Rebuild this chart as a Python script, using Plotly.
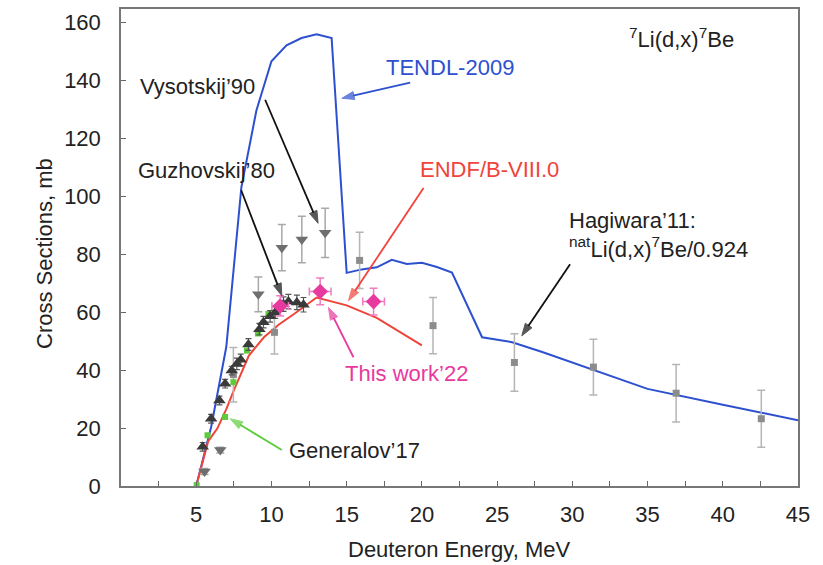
import plotly.graph_objects as go

# ---- evaluated cross sections (deuteron energy in MeV, sigma in mb) ----
tendl_e = [5, 6, 7, 8, 9, 10, 11, 12, 13, 14, 15, 16, 17, 18, 19, 20, 21, 22, 24, 26, 28, 30, 35, 40, 45]
tendl_s = [0, 20.5, 48, 103, 129.5, 146.5, 152, 154.5, 155.8, 154.5, 73.5, 74.7, 75.4, 78, 76.6, 77,
           75.5, 73.6, 51.3, 49.6, 46.2, 42.5, 33.5, 28, 22.7]

endf_e = [5.0, 5.8, 6.4, 7.0, 7.5, 8.0, 8.5, 9.5, 10.5, 11.5, 13.0, 15.0, 17.0, 20.0]
endf_s = [0, 15.5, 19.8, 26.5, 33, 39, 45, 51.3, 55.7, 59.3, 65, 62.3, 58, 48.5]

# ---- experimental data ----
guz_e = [5.43, 5.99, 6.54, 6.92, 7.36, 7.7, 7.96, 8.47, 9.2, 9.47, 9.91, 10.25, 10.8, 11.13, 11.69, 12.13]
guz_s = [13.5, 23.2, 29.5, 35.3, 39.8, 42.1, 43.5, 48.8, 54.1, 56.5, 58.5, 59.8, 62.7, 63.6, 63.3, 62.5]
guz_err = [1.5, 1.5, 1.5, 1.5, 1.5, 2, 2, 2, 2, 2, 2, 2, 2.5, 2.5, 2.5, 2.5]

vys_e = [5.55, 6.6, 9.13, 10.69, 12.02, 13.57]
vys_s = [5.0, 12.4, 66.1, 82.2, 85.0, 87.3]
vys_err = [1, 1, 6, 8, 8, 8.5]

hag_e = [7.47, 10.2, 15.86, 20.74, 26.15, 31.4, 36.9, 42.56]
hag_s = [38.4, 53.0, 77.8, 55.3, 42.6, 41.0, 32.0, 23.2]
hag_err = [9.4, 7.5, 9.7, 9.7, 9.9, 9.6, 9.9, 9.8]

gen_e = [5.03, 5.75, 6.92, 7.47, 8.37, 9.1, 9.8]
gen_s = [0.3, 17.5, 23.8, 35.8, 46.7, 52.6, 59.3]

tw_e = [10.58, 13.24, 16.79]
tw_s = [62.1, 67.1, 63.6]
tw_xerr = [0.55, 0.72, 0.72]
tw_yerr = [3.5, 4.6, 4.6]

x_ticks = [5, 10, 15, 20, 25, 30, 35, 40, 45]
y_ticks = [0, 20, 40, 60, 80, 100, 120, 140, 160]

FONT = "Liberation Sans, Arial, Helvetica, sans-serif"
BLUE = "#2d50cf"
RED = "#f0443a"
PINK = "#e8399e"
GREEN = "#5ccc3c"
FS = 22

W, H = 823, 565
ML, MR, MT, MB = 121, 25, 7, 79
PL, PR, PT, PB = ML, W - MR, MT, H - MB


def px(xp):
    return (xp - PL) / (PR - PL)


def py(yp):
    return (PB - yp) / (PB - PT)


fig = go.Figure()

fig.add_trace(go.Scatter(x=tendl_e, y=tendl_s, mode="lines",
                         line=dict(color=BLUE, width=2), name="TENDL-2009"))
fig.add_trace(go.Scatter(x=endf_e, y=endf_s, mode="lines",
                         line=dict(color=RED, width=2), name="ENDF/B-VIII.0"))

fig.add_trace(go.Scatter(x=hag_e, y=hag_s, mode="markers", name="Hagiwara'11",
                         marker=dict(symbol="square", size=7, color="#8c8c8c"),
                         error_y=dict(type="data", array=hag_err, color="#b5b5b5",
                                      thickness=1.5, width=4)))
fig.add_trace(go.Scatter(x=vys_e, y=vys_s, mode="markers", name="Vysotskij'90",
                         marker=dict(symbol="triangle-down", size=11, color="#6e6e6e"),
                         error_y=dict(type="data", array=vys_err, color="#a8a8a8",
                                      thickness=1.5, width=4)))
fig.add_trace(go.Scatter(x=gen_e, y=gen_s, mode="markers", name="Generalov'17",
                         marker=dict(symbol="square", size=6, color=GREEN)))
fig.add_trace(go.Scatter(x=guz_e, y=guz_s, mode="markers", name="Guzhovskij'80",
                         marker=dict(symbol="triangle-up", size=11, color="#3a3a3a"),
                         error_y=dict(type="data", array=guz_err, color="#555555",
                                      thickness=1.2, width=3)))
fig.add_trace(go.Scatter(x=tw_e, y=tw_s, mode="markers", name="This work'22",
                         marker=dict(symbol="diamond", size=12, color=PINK),
                         error_x=dict(type="data", array=tw_xerr, color="#f07cc0",
                                      thickness=1.5, width=4),
                         error_y=dict(type="data", array=tw_yerr, color="#f07cc0",
                                      thickness=1.5, width=4)))


# ---- pointer arrows from each label to its curve / data set (tail -> head, data units) ----
def arrow(tx, ty, hx, hy, color):
    fig.add_trace(go.Scatter(x=[tx, hx], y=[ty, hy], mode="lines+markers",
                             line=dict(color=color, width=1.8),
                             marker=dict(symbol="arrow", size=[0, 13], color=color,
                                         angleref="previous",
                                         line=dict(color=color, width=1)),
                             hoverinfo="skip", showlegend=False))


arrow(19.22, 139.1, 14.68, 133.7, BLUE)
arrow(9.58, 133.2, 13.1, 90.6, "#111111")
arrow(7.99, 102.0, 10.69, 65.6, "#111111")
arrow(20.11, 102.8, 15.12, 63.9, RED)
arrow(15.45, 44.4, 13.79, 61.6, PINK)
arrow(10.69, 12.4, 7.26, 23.2, GREEN)
arrow(29.85, 76.5, 26.64, 51.8, "#111111")


# ---- labels ----
def label(text, xp, yp, color="#222222", anchor="center", size=FS):
    fig.add_annotation(text=text, xref="paper", yref="paper", x=px(xp), y=py(yp),
                       xanchor=anchor, yanchor="middle", showarrow=False, align="left",
                       font=dict(family=FONT, size=size, color=color))


label("Vysotskij\u201990", 197.5, 85)
label("Guzhovskij\u201980", 206.7, 169)
label("TENDL-2009", 450, 66, BLUE)
label("ENDF/B-VIII.0", 418, 168, RED, "left")
label("This work\u201922", 343, 373, PINK, "left")
label("Generalov\u201917", 287, 450, "#222222", "left")
label("Hagiwara\u201911:<br><sup>nat</sup>Li(d,x)<sup>7</sup>Be/0.924", 567, 234, "#222222", "left")
label("<sup>7</sup>Li(d,x)<sup>7</sup>Be", 627, 36, "#222222", "left")

# ---- axis titles ----
fig.add_annotation(text="Cross Sections, mb", xref="paper", yref="paper", x=px(45), y=py(253),
                   textangle=-90, showarrow=False, xanchor="center", yanchor="middle",
                   font=dict(family=FONT, size=FS, color="#222222"))
fig.add_annotation(text="Deuteron Energy, MeV", xref="paper", yref="paper", x=px(459), y=py(550),
                   showarrow=False, xanchor="center", yanchor="middle",
                   font=dict(family=FONT, size=FS, color="#222222"))

axis_common = dict(showline=True, mirror=True, linecolor="#777777", linewidth=1.5,
                   showgrid=False, zeroline=False, ticks="inside", ticklen=5,
                   tickcolor="#666666", tickwidth=1,
                   tickfont=dict(family=FONT, size=FS, color="#222222"))

fig.update_xaxes(range=[0, 45], tickvals=x_ticks, ticklabelstandoff=8,
                 minor=dict(dtick=2.5, tick0=0, ticks="inside", ticklen=5,
                            tickcolor="#666666"),
                 **axis_common)
fig.update_yaxes(range=[0, 164.5], tickvals=y_ticks, ticklabelstandoff=14, **axis_common)

fig.update_layout(width=W, height=H, margin=dict(l=ML, r=MR, t=MT, b=MB),
                  paper_bgcolor="white", plot_bgcolor="white", showlegend=False)

fig.write_html("out.html")
